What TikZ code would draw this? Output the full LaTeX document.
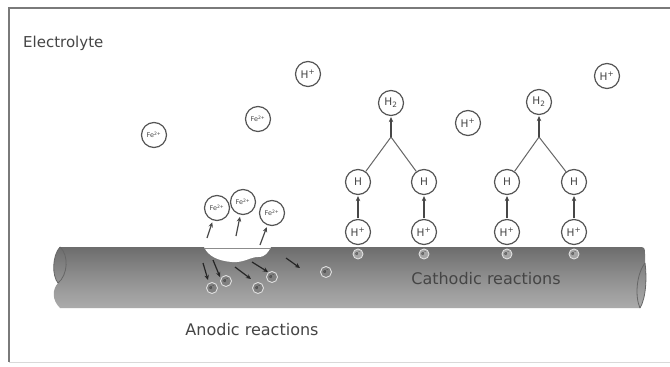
\documentclass[tikz,border=0pt]{standalone}
\usepackage{fontspec}
\setmainfont{DejaVu Sans}
\usetikzlibrary{arrows.meta}

\definecolor{ringgray}{HTML}{555555}
\definecolor{txtgray}{HTML}{454545}
\definecolor{framegray}{HTML}{7A7A7A}

% vertical shading of the steel pipe (0bp = bottom, 100bp = top)
\pgfdeclareverticalshading{pipeshade}{100bp}{%
  color(0bp)=(black!75);
  color(8bp)=(black!58);
  color(26bp)=(black!33);
  color(50bp)=(black!44);
  color(80bp)=(black!60);
  color(94bp)=(black!68);
  color(100bp)=(black!78)}

\tikzset{
  ion/.style={circle, draw=ringgray, line width=1.2pt, fill=white,
    minimum size=25pt, inner sep=0pt, text=txtgray,
    font=\fontsize{10.5}{10.5}\selectfont},
  feion/.style={ion, font=\fontsize{6.5}{6.5}\selectfont},
  elec/.style={circle, draw=black!12, line width=0.9pt, fill=black!50,
    minimum size=11pt, inner sep=0pt, text=black!85,
    font=\fontsize{5}{5}\selectfont},
  arr/.style={-{Stealth[length=5pt,width=4.5pt]}, line width=1.2pt, draw=black!72},
  bond/.style={line width=1pt, draw=black!60},
  caption/.style={text=txtgray, font=\fontsize{16}{16}\selectfont, inner sep=0pt}
}

\begin{document}
\begin{tikzpicture}[x=1pt, y=-1pt]
\useasboundingbox (0,0) rectangle (670,367);
\fill[white] (0,0) rectangle (670,367);

% frame of the electrolyte region
\draw[framegray, line width=1.1pt] (672,8) -- (9,8) -- (9,362);
\draw[black!15, line width=0.8pt] (9,362) -- (672,362);

\node[caption, anchor=west, font=\fontsize{15}{15}\selectfont] (electrolyte) at (23,43) {Electrolyte};

% the pipe
\shade[shading=pipeshade]
  (60,247) -- (641,247) .. controls (645,247) and (645,250) .. (645,254)
  -- (645,263) .. controls (647,278) and (646,298) .. (640,308)
  -- (60,308) .. controls (52,300) and (52,290) .. (58,283)
  .. controls (52,276) and (52,256) .. (60,247) -- cycle;
% cut ends
\draw[black!60, line width=0.8pt] (60,247) .. controls (69,255) and (68,275) .. (58,283);
\draw[black!60, line width=0.8pt] (60,247) .. controls (52,256) and (52,276) .. (58,283);
\draw[black!60, line width=0.8pt] (645,263) .. controls (636,275) and (635,297) .. (640,308);
\draw[black!60, line width=0.8pt] (645,263) .. controls (647,278) and (646,298) .. (640,308);

% corrosion pit
\fill[white] (204,247) .. controls (208,256) and (218,261) .. (232,262)
  .. controls (244,263) and (250,257) .. (258,257)
  .. controls (266,257) and (268,252) .. (271,247) -- cycle;
\draw[black!45, line width=0.6pt] (204,248) -- (271,248);

\node[caption] (cathodic) at (486,279) {Cathodic reactions};
\node[caption] (anodic) at (252,330) {Anodic reactions};

% ions in the electrolyte
\node[feion] (fe1) at (154,135) {Fe\textsuperscript{2+}};
\node[feion] (fe2) at (258,119) {Fe\textsuperscript{2+}};
\node[ion] (hp1) at (308,74) {H\textsuperscript{+}};
\node[ion] (hp2) at (468,123) {H\textsuperscript{+}};
\node[ion] (hp3) at (607,76) {H\textsuperscript{+}};

% anodic dissolution
\node[feion] (fa) at (217,208) {Fe\textsuperscript{2+}};
\node[feion] (fb) at (243,202) {Fe\textsuperscript{2+}};
\node[feion] (fc) at (272,213) {Fe\textsuperscript{2+}};
\coordinate (pa) at (207,238);
\coordinate (pb) at (236,236);
\coordinate (pc) at (260,245);
\draw[arr, shorten >=2pt] (pa) -- (fa);
\draw[arr, shorten >=2pt] (pb) -- (fb);
\draw[arr, shorten >=2pt] (pc) -- (fc);

% electrons released in the metal
\node[elec] (e1) at (212,288) {e\textsuperscript{-}};
\node[elec] (e2) at (226,281) {e\textsuperscript{-}};
\node[elec] (e3) at (258,288) {e\textsuperscript{-}};
\node[elec] (e4) at (272,277) {e\textsuperscript{-}};
\node[elec] (e5) at (326,272) {e\textsuperscript{-}};
\coordinate (s1) at (203,263); \coordinate (t1) at (208,280);
\coordinate (s2) at (213,260); \coordinate (t2) at (220,277);
\coordinate (s3) at (235,267); \coordinate (t3) at (251,279);
\coordinate (s4) at (252,262); \coordinate (t4) at (268,272);
\coordinate (s5) at (286,258); \coordinate (t5) at (300,268);
\foreach \i in {1,...,5} \draw[arr, draw=black!85] (s\i) -- (t\i);

% cathodic hydrogen evolution
\foreach \n/\x in {a/358, b/424, c/507, d/574} {
  \node[elec, fill=black!35, minimum size=10pt] (ce\n) at (\x,254) {e\textsuperscript{-}};
  \node[ion] (hi\n) at (\x,232) {H\textsuperscript{+}};
  \node[ion] (ha\n) at (\x,182) {H};
  \draw[arr, shorten <=1pt, shorten >=1pt] (hi\n) -- (ha\n);
}
\node[ion] (hm1) at (391,103) {H\textsubscript{2}};
\node[ion] (hm2) at (539,102) {H\textsubscript{2}};
\coordinate (j1) at (391,137);
\coordinate (j2) at (539,137);
\draw[bond] (j1) -- (haa);
\draw[bond] (j1) -- (hab);
\draw[bond] (j2) -- (hac);
\draw[bond] (j2) -- (had);
\draw[arr, shorten >=1pt] (j1) -- (hm1);
\draw[arr, shorten >=1pt] (j2) -- (hm2);
\end{tikzpicture}
\end{document}
